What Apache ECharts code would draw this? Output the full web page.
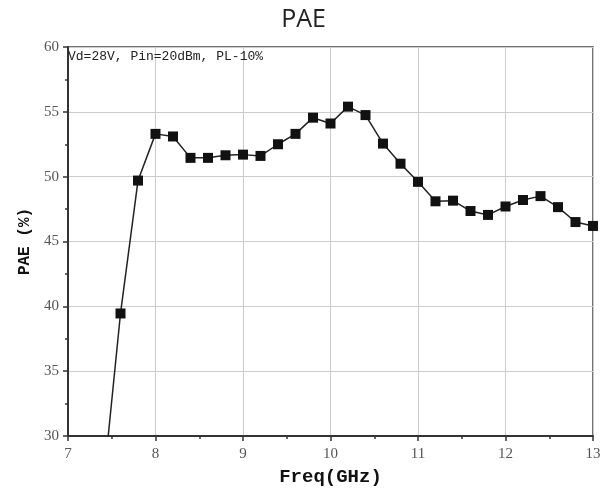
<!DOCTYPE html>
<html>
<head>
<meta charset="utf-8">
<script src="https://cdn.jsdelivr.net/npm/echarts@6/dist/echarts.min.js"></script>
<style>html,body{margin:0;padding:0;background:#fff}#c{width:607px;height:496px}</style>
</head>
<body>
<div id="c"></div>
<script>
var freq = [7.4, 7.6, 7.8, 8.0, 8.2, 8.4, 8.6, 8.8, 9.0, 9.2, 9.4, 9.6, 9.8, 10.0, 10.2, 10.4, 10.6, 10.8, 11.0, 11.2, 11.4, 11.6, 11.8, 12.0, 12.2, 12.4, 12.6, 12.8, 13.0];
var pae  = [26.0, 39.45, 49.7, 53.3, 53.1, 51.45, 51.45, 51.65, 51.7, 51.6, 52.5, 53.3, 54.55, 54.1, 55.4, 54.75, 52.55, 51.0, 49.6, 48.1, 48.15, 47.35, 47.05, 47.7, 48.2, 48.5, 47.65, 46.5, 46.2];
var xTicks = [7, 8, 9, 10, 11, 12, 13];
var yTicks = [30, 35, 40, 45, 50, 55, 60];
var annotation = 'Vd=28V, Pin=20dBm, PL-10%';

var data = freq.map(function (f, i) { return [f, pae[i]]; });
var chart = echarts.init(document.getElementById('c'), null, {renderer: 'canvas'});
chart.setOption({
  animation: false,
  backgroundColor: '#fff',
  title: [{
    text: 'PAE', left: 'center', top: 2,
    textStyle: {fontFamily: 'Open Sans', fontWeight: 'normal', fontSize: 25, color: '#222'}
  }, {
    text: annotation, left: 68, top: 50, padding: 0,
    textStyle: {fontFamily: 'Liberation Mono', fontWeight: 'normal', fontSize: 13, color: '#222'}
  }],
  grid: {left: 68, right: 14, top: 47, bottom: 60, show: true, borderColor: '#444', borderWidth: 1.5},
  xAxis: {
    type: 'value', min: xTicks[0], max: xTicks[xTicks.length - 1], interval: 1,
    name: 'Freq(GHz)', nameLocation: 'middle', nameGap: 32,
    nameTextStyle: {fontFamily: 'Liberation Mono', fontWeight: 'bold', fontSize: 19, color: '#111'},
    axisLine: {lineStyle: {color: '#333', width: 2}},
    axisTick: {length: 5, lineStyle: {color: '#333', width: 1.5}},
    minorTick: {show: true, splitNumber: 2, length: 3, lineStyle: {color: '#333', width: 1.5}},
    axisLabel: {fontFamily: 'Liberation Serif', fontSize: 15, color: '#555', margin: 11},
    splitLine: {show: true, lineStyle: {color: '#ccc', width: 1}}
  },
  yAxis: {
    type: 'value', min: yTicks[0], max: yTicks[yTicks.length - 1], interval: 5,
    name: 'PAE (%)', nameLocation: 'middle', nameGap: 33, nameRotate: 90,
    nameTextStyle: {fontFamily: 'Liberation Mono', fontWeight: 'bold', fontSize: 16, color: '#111'},
    axisLine: {lineStyle: {color: '#333', width: 2}},
    axisTick: {length: 5, lineStyle: {color: '#333', width: 1.5}},
    minorTick: {show: true, splitNumber: 2, length: 3, lineStyle: {color: '#333', width: 1.5}},
    axisLabel: {fontFamily: 'Liberation Serif', fontSize: 15, color: '#555', margin: 9},
    splitLine: {show: true, lineStyle: {color: '#ccc', width: 1}}
  },
  series: [{
    type: 'line', data: data, clip: true,
    symbol: 'rect', symbolSize: 10, showAllSymbol: true,
    itemStyle: {color: '#111'},
    lineStyle: {color: '#222', width: 1.5}
  }]
});
</script>
</body>
</html>
